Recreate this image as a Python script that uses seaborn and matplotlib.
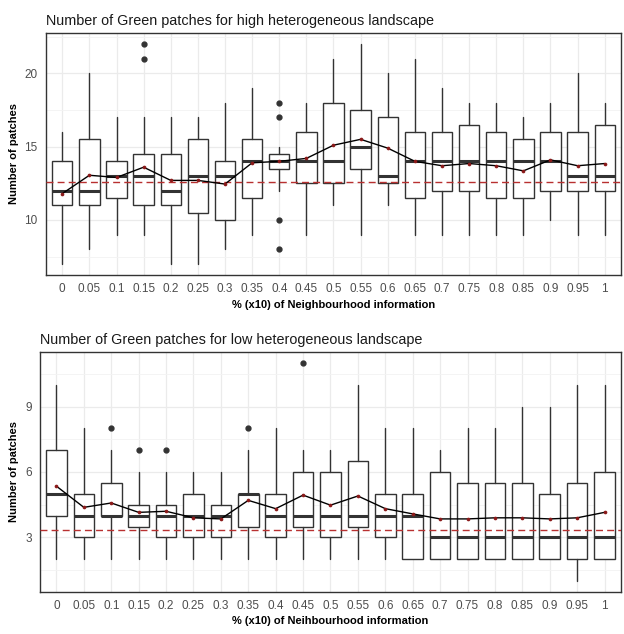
import matplotlib
matplotlib.use("Agg")
import matplotlib.pyplot as plt
import seaborn as sns
import numpy as np
import pandas as pd

# Share of neighbourhood information (category labels)
levels = ["0", "0.05", "0.1", "0.15", "0.2", "0.25", "0.3", "0.35", "0.4", "0.45",
          "0.5", "0.55", "0.6", "0.65", "0.7", "0.75", "0.8", "0.85", "0.9", "0.95", "1"]

# --- High heterogeneous landscape: box statistics per level ---
high_whislo = [7, 8, 9, 9, 7, 7, 8, 9, 12, 9, 11, 9, 11, 9, 9, 9, 9, 9, 10, 9, 9]
high_q1     = [11, 11, 11.5, 11, 11, 10.5, 10, 11.5, 13.5, 12.5, 12.5, 13.5, 12.5, 11.5, 12, 12, 11.5, 11.5, 12, 12, 12]
high_med    = [12, 12, 13, 13, 12, 13, 13, 14, 14, 14, 14, 15, 13, 14, 14, 14, 14, 14, 14, 13, 13]
high_q3     = [14, 15.5, 14, 14.5, 14.5, 15.5, 14, 15.5, 14.5, 16, 18, 17.5, 17, 16, 16, 16.5, 16, 15.5, 16, 16, 16.5]
high_whishi = [16, 20, 17, 17, 17, 17, 18, 19, 15, 18, 21, 22, 20, 21, 19, 18, 18, 17, 18, 20, 18]
high_fliers = [[], [], [], [21, 22], [], [], [], [], [8, 10, 17, 18], [], [], [], [], [], [], [], [], [], [], [], []]
high_mean   = [11.8, 13.05, 12.9, 13.6, 12.7, 12.7, 12.45, 13.9, 14.0, 14.2, 15.1, 15.5, 14.9,
               14.0, 13.7, 13.85, 13.7, 13.35, 14.1, 13.7, 13.85]
high_ref = 12.6

# --- Low heterogeneous landscape: box statistics per level ---
low_whislo = [2, 2, 2, 2, 2, 2, 2, 2, 2, 2, 2, 2, 2, 2, 2, 2, 2, 2, 2, 1, 2]
low_q1     = [4, 3, 4, 3.5, 3, 3, 3, 3.5, 3, 3.5, 3, 3.5, 3, 2, 2, 2, 2, 2, 2, 2, 2]
low_med    = [5, 4, 4, 4, 4, 4, 4, 5, 4, 4, 4, 4, 4, 4, 3, 3, 3, 3, 3, 3, 3]
low_q3     = [7, 5, 5.5, 4.5, 4.5, 5, 4.5, 5, 5, 6, 6, 6.5, 5, 5, 6, 5.5, 5.5, 5.5, 5, 5.5, 6]
low_whishi = [10, 8, 7, 6, 6, 6, 6, 7, 8, 7, 7, 10, 8, 8, 7, 8, 8, 9, 9, 10, 10]
low_fliers = [[], [], [8], [7], [7], [], [], [8], [], [11], [], [], [], [], [], [], [], [], [], [], []]
low_mean   = [5.35, 4.38, 4.58, 4.15, 4.2, 3.9, 3.85, 4.7, 4.32, 4.94, 4.48, 4.9, 4.32,
              4.08, 3.85, 3.85, 3.9, 3.9, 3.85, 3.9, 4.15]
low_ref = 3.35

sns.set_theme(style="whitegrid")
plt.rcParams["font.family"] = ["Liberation Sans", "DejaVu Sans"]

fig = plt.figure(figsize=(6.24, 6.34), dpi=100)
ax_top = fig.add_axes([46 / 624, 1 - 275 / 634, 575 / 624, 242 / 634])
ax_bot = fig.add_axes([40 / 624, 1 - 592 / 634, 581 / 624, 240 / 634])


def draw_panel(ax, whislo, q1, med, q3, whishi, fliers, mean, ref,
               title, xlabel, ylim, yticks, yminor):
    stats = []
    for i, lab in enumerate(levels):
        stats.append(dict(label=lab, whislo=whislo[i], q1=q1[i], med=med[i],
                          q3=q3[i], whishi=whishi[i], fliers=fliers[i]))
    pos = np.arange(len(levels))
    ax.bxp(stats, positions=pos, widths=0.75, patch_artist=True,
           showcaps=False, showfliers=True,
           boxprops=dict(facecolor="white", edgecolor="#333333", linewidth=1.0),
           medianprops=dict(color="#333333", linewidth=2.2),
           whiskerprops=dict(color="#333333", linewidth=1.0),
           flierprops=dict(marker="o", markerfacecolor="#333333",
                           markeredgecolor="#333333", markersize=3.5))
    ax.axhline(ref, color="#b83030", linestyle=(0, (5, 3)), linewidth=1.0, zorder=3)
    df = pd.DataFrame({"x": pos, "mean": mean})
    sns.lineplot(data=df, x="x", y="mean", ax=ax, color="black", linewidth=1.0,
                 zorder=4)
    sns.scatterplot(data=df, x="x", y="mean", ax=ax, color="#8b1a1a", s=7,
                    linewidth=0, zorder=5)

    ax.set_xlim(-0.6, len(levels) - 0.4)
    ax.set_ylim(*ylim)
    ax.set_xticks(pos)
    ax.set_xticklabels(levels)
    ax.set_yticks(yticks)
    ax.set_yticks(yminor, minor=True)
    ax.grid(True, which="major", color="#ebebeb", linewidth=0.9)
    ax.grid(True, which="minor", axis="y", color="#f3f3f3", linewidth=0.6)
    ax.set_axisbelow(True)
    for s in ax.spines.values():
        s.set_color("#333333")
        s.set_linewidth(1.0)
        s.set_visible(True)
    ax.tick_params(axis="both", which="major", length=3, width=0.8, color="#333333",
                   labelsize=8.5, labelcolor="#4d4d4d", pad=3)
    ax.tick_params(axis="both", which="minor", length=0)
    ax.set_title(title, loc="left", fontsize=10.4, color="#1a1a1a", pad=6)
    ax.set_xlabel(xlabel, fontsize=8, fontweight="bold", color="black", labelpad=3)
    ax.set_ylabel("Number of patches", fontsize=8, fontweight="bold",
                  color="black", labelpad=4)


draw_panel(ax_top, high_whislo, high_q1, high_med, high_q3, high_whishi,
           high_fliers, high_mean, high_ref,
           "Number of Green patches for high heterogeneous landscape",
           "% (x10) of Neighbourhood information",
           (6.25, 22.75), [10, 15, 20], [7.5, 12.5, 17.5, 22.5])
draw_panel(ax_bot, low_whislo, low_q1, low_med, low_q3, low_whishi,
           low_fliers, low_mean, low_ref,
           "Number of Green patches for low heterogeneous landscape",
           "% (x10) of Neihbourhood information",
           (0.5, 11.5), [3, 6, 9], [1.5, 4.5, 7.5, 10.5])

fig.savefig("out.png", dpi=100, facecolor="white")
